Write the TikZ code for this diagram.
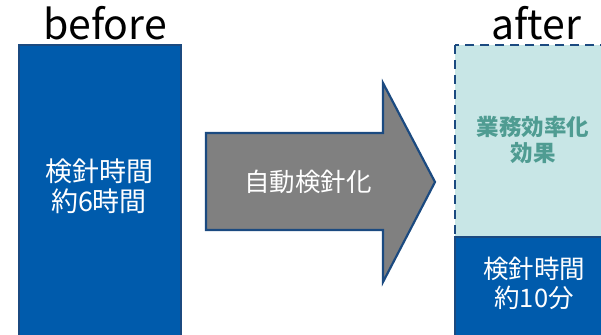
\documentclass[tikz,border=0pt]{standalone}
\usepackage{fontspec}
\setmainfont{Noto Sans CJK JP}
\definecolor{boxblue}{HTML}{005BAC}
\definecolor{edgeblue}{HTML}{1B4A80}
\definecolor{arrowgray}{HTML}{808080}
\definecolor{lightteal}{HTML}{C8E6E6}
\definecolor{tealtext}{HTML}{4F9C92}
\begin{document}
\begin{tikzpicture}[x=1pt,y=-1pt,
  title/.style={font=\fontsize{41}{41}\selectfont, text=black, inner sep=0pt, anchor=base},
  boxtext/.style={font=\fontsize{26}{30}\selectfont, text=white, align=center, inner sep=0pt},
  solidbox/.style={fill=boxblue, draw=edgeblue, line width=2.2pt},
]
\useasboundingbox (0,0) rectangle (601,334);
\fill[white] (0,0) rectangle (601,334);
\begin{scope}
\clip (0,0) rectangle (601,334);
% before box
\draw[solidbox] (19,45) rectangle (181,340);
% after boxes
\draw[fill=lightteal, draw=edgeblue, line width=2.2pt, dash pattern=on 9pt off 6pt] (455,45) rectangle (610,237);
\draw[solidbox] (455,237) rectangle (610,340);
% arrow
\draw[fill=arrowgray, draw=edgeblue, line width=2.2pt, line join=miter]
  (206,133) -- (383,133) -- (383,83) -- (435,182) -- (383,282) -- (383,230) -- (206,230) -- cycle;
\end{scope}
\node[title] (before) at (105,40) {before};
\node[title] (after) at (536,40) {after};
\node[boxtext, font=\fontsize{27}{30}\selectfont] (beforetext) at (99,186) {検針時間\\約6時間};
\node[boxtext, font=\fontsize{25.5}{26}\selectfont] (arrowtext) at (308,182) {自動検針化};
\node[boxtext, text=tealtext, font=\fontsize{22.5}{26}\selectfont\bfseries] (effect) at (533,140) {業務効率化\\効果};
\node[boxtext, font=\fontsize{25.5}{29}\selectfont] (aftertext) at (534,283) {検針時間\\約10分};
\end{tikzpicture}
\end{document}
